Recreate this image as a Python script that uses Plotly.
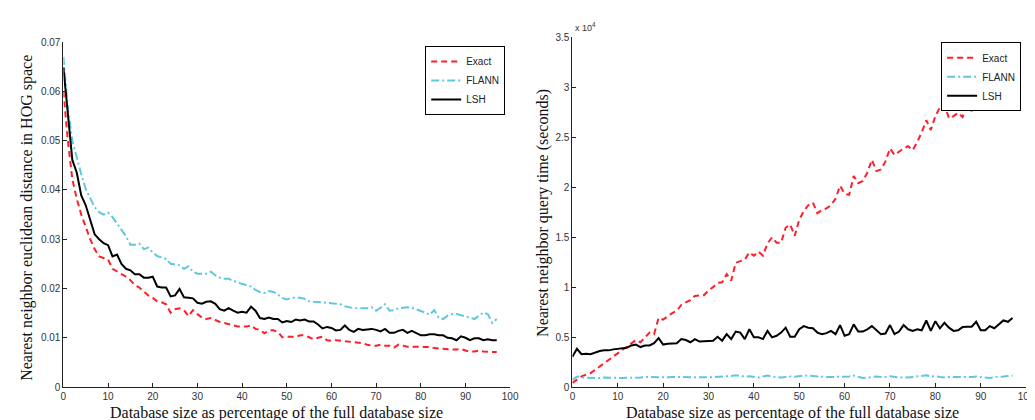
import plotly.graph_objects as go

# Database size (% of full database)
pct = list(range(0, 98))

# Left panel: nearest neighbor euclidean distance in HOG space
dist_exact = [0.060, 0.050, 0.0422, 0.0382, 0.035, 0.0325, 0.030, 0.028, 0.0265, 0.0262,
              0.0259, 0.024, 0.0235, 0.023, 0.0224, 0.0217, 0.0207, 0.0202, 0.0193, 0.0186,
              0.0181, 0.0174, 0.0172, 0.0168, 0.0151, 0.0158, 0.016, 0.0156, 0.0144, 0.0156,
              0.0148, 0.0141, 0.0138, 0.014, 0.0136, 0.0132, 0.013, 0.0128, 0.0125, 0.0123,
              0.0123, 0.0123, 0.0125, 0.0118, 0.0116, 0.0109, 0.0115, 0.0115, 0.0112, 0.0101,
              0.0102, 0.0102, 0.0102, 0.0105, 0.0105, 0.0101, 0.0097, 0.0100, 0.0102, 0.0095,
              0.0094, 0.0095, 0.0094, 0.0092, 0.0091, 0.0090, 0.0090, 0.0089, 0.0086, 0.0084,
              0.0084, 0.0086, 0.0084, 0.0084, 0.0080, 0.0086, 0.0084, 0.0082, 0.0082, 0.0082,
              0.0081, 0.0081, 0.0081, 0.0079, 0.0078, 0.0077, 0.0076, 0.0076, 0.0076, 0.0077,
              0.0074, 0.0072, 0.0072, 0.0074, 0.0072, 0.0072, 0.0071, 0.0071]

dist_flann = [0.067, 0.0566, 0.050, 0.0464, 0.0432, 0.0402, 0.0382, 0.0365, 0.0355, 0.035,
              0.0354, 0.0345, 0.0332, 0.0319, 0.0306, 0.0289, 0.0289, 0.0291, 0.028, 0.0283,
              0.0273, 0.0266, 0.0263, 0.026, 0.025, 0.0248, 0.0247, 0.024, 0.0245, 0.0234,
              0.023, 0.023, 0.023, 0.0234, 0.0227, 0.0222, 0.022, 0.022, 0.0215, 0.0213,
              0.0209, 0.0207, 0.0204, 0.0197, 0.0193, 0.0191, 0.0195, 0.0193, 0.0188, 0.0181,
              0.0178, 0.0181, 0.0181, 0.0181, 0.0179, 0.0174, 0.0173, 0.0173, 0.0172, 0.0171,
              0.017, 0.017, 0.0168, 0.0164, 0.0162, 0.016, 0.016, 0.016, 0.016, 0.0162,
              0.0155, 0.0161, 0.0168, 0.0155, 0.0156, 0.016, 0.0161, 0.0162, 0.0161, 0.0158,
              0.0155, 0.0151, 0.0147, 0.0156, 0.0141, 0.0138, 0.0145, 0.0148, 0.0148, 0.0146,
              0.0143, 0.0141, 0.0138, 0.0145, 0.0151, 0.0148, 0.013, 0.0138]

dist_lsh = [0.0649, 0.0553, 0.0461, 0.0435, 0.0389, 0.0369, 0.034, 0.031, 0.030, 0.0292,
            0.0288, 0.0265, 0.0269, 0.025, 0.024, 0.0237, 0.0229, 0.0229, 0.0222, 0.0222,
            0.0224, 0.0204, 0.0202, 0.0202, 0.0184, 0.0186, 0.0199, 0.0182, 0.0181, 0.018,
            0.0171, 0.0169, 0.0173, 0.0174, 0.0169, 0.0158, 0.0155, 0.016, 0.0155, 0.0151,
            0.0153, 0.0151, 0.0163, 0.0155, 0.014, 0.0138, 0.0141, 0.0138, 0.0138, 0.0131,
            0.0134, 0.0132, 0.0137, 0.0135, 0.0137, 0.0133, 0.0133, 0.0127, 0.0119, 0.0122,
            0.012, 0.0115, 0.0116, 0.0125, 0.0116, 0.0112, 0.0118, 0.0116, 0.0117, 0.0118,
            0.0116, 0.0113, 0.0118, 0.011, 0.011, 0.0114, 0.0116, 0.011, 0.0114, 0.0109,
            0.0105, 0.0105, 0.0107, 0.0107, 0.0105, 0.0105, 0.010, 0.0099, 0.0095, 0.0103,
            0.010, 0.0095, 0.0099, 0.0099, 0.0095, 0.0097, 0.0095, 0.0095]

# Right panel: nearest neighbor query time (units of 10^4 seconds)
time_exact = [0.042, 0.075, 0.107, 0.123, 0.14, 0.172, 0.205, 0.243, 0.276, 0.308,
              0.341, 0.377, 0.406, 0.438, 0.47, 0.448, 0.497, 0.545, 0.529, 0.692,
              0.675, 0.708, 0.74, 0.763, 0.821, 0.847, 0.87, 0.912, 0.919, 0.919,
              0.968, 1.0, 1.042, 1.049, 1.13, 1.065, 1.243, 1.26, 1.276, 1.347,
              1.315, 1.357, 1.315, 1.438, 1.497, 1.445, 1.445, 1.594, 1.626, 1.513,
              1.675, 1.762, 1.82, 1.846, 1.74, 1.772, 1.788, 1.82, 1.885, 2.015,
              1.934, 1.924, 2.112, 2.041, 2.063, 2.145, 2.274, 2.161, 2.177, 2.258,
              2.388, 2.323, 2.355, 2.388, 2.41, 2.371, 2.452, 2.549, 2.67, 2.572,
              2.711, 2.799, 2.825, 2.689, 2.711, 2.743, 2.702, 2.818, 2.76, 2.961,
              2.889, 2.954, 2.986, 3.035, 3.07, 3.12, 3.15, 3.18]

time_flann = [0.07, 0.105, 0.095, 0.092, 0.09, 0.092, 0.09, 0.095, 0.092, 0.09,
              0.088, 0.09, 0.092, 0.093, 0.09, 0.095, 0.1, 0.098, 0.1, 0.098,
              0.095, 0.097, 0.1, 0.1, 0.105, 0.1, 0.098, 0.1, 0.1, 0.098,
              0.097, 0.1, 0.098, 0.1, 0.105, 0.11, 0.118, 0.112, 0.105, 0.108,
              0.098, 0.095, 0.105, 0.115, 0.105, 0.098, 0.095, 0.1, 0.105, 0.102,
              0.11, 0.115, 0.113, 0.11, 0.1, 0.098, 0.1, 0.1, 0.102, 0.1,
              0.105, 0.105, 0.115, 0.1, 0.09, 0.095, 0.1, 0.105, 0.1, 0.1,
              0.108, 0.1, 0.095, 0.1, 0.095, 0.1, 0.105, 0.11, 0.118, 0.105,
              0.11, 0.1, 0.095, 0.1, 0.1, 0.098, 0.097, 0.1, 0.1, 0.105,
              0.1, 0.095, 0.09, 0.1, 0.1, 0.105, 0.11, 0.115]

time_lsh = [0.302, 0.383, 0.328, 0.334, 0.328, 0.344, 0.36, 0.367, 0.367, 0.377,
            0.383, 0.393, 0.393, 0.416, 0.425, 0.40, 0.416, 0.416, 0.438, 0.49,
            0.425, 0.432, 0.438, 0.438, 0.48, 0.47, 0.448, 0.48, 0.455, 0.458,
            0.464, 0.464, 0.503, 0.464, 0.529, 0.48, 0.555, 0.545, 0.48, 0.578,
            0.497, 0.497, 0.48, 0.562, 0.497, 0.513, 0.545, 0.594, 0.503, 0.503,
            0.578, 0.61, 0.594, 0.588, 0.545, 0.529, 0.539, 0.562, 0.529, 0.62,
            0.513, 0.529, 0.627, 0.555, 0.555, 0.578, 0.61, 0.568, 0.529, 0.536,
            0.62, 0.529, 0.555, 0.62, 0.578, 0.562, 0.578, 0.568, 0.666, 0.562,
            0.659, 0.588, 0.643, 0.594, 0.562, 0.568, 0.60, 0.604, 0.604, 0.653,
            0.568, 0.568, 0.61, 0.588, 0.627, 0.666, 0.653, 0.692]

x_ticks = [0, 10, 20, 30, 40, 50, 60, 70, 80, 90, 100]
left_y_ticks = [0, 0.01, 0.02, 0.03, 0.04, 0.05, 0.06, 0.07]
left_y_labels = ["0", "0.01", "0.02", "0.03", "0.04", "0.05", "0.06", "0.07"]
right_y_ticks = [0, 0.5, 1, 1.5, 2, 2.5, 3, 3.5]
right_y_labels = ["0", "0.5", "1", "1.5", "2", "2.5", "3", "3.5"]

RED = "#ff1f2a"
CYAN = "#5fc9dc"
BLACK = "#000000"
DASH = "6px,4px"
DASHDOT = "8px,3px,2px,3px"

fig = go.Figure()

for xa, ya, leg, ys in [("x", "y", "legend", (dist_exact, dist_flann, dist_lsh)),
                        ("x2", "y2", "legend2", (time_exact, time_flann, time_lsh))]:
    fig.add_trace(go.Scatter(x=pct, y=ys[0], mode="lines", name="Exact",
                             line=dict(color=RED, width=2, dash=DASH),
                             xaxis=xa, yaxis=ya, legend=leg))
    fig.add_trace(go.Scatter(x=pct, y=ys[1], mode="lines", name="FLANN",
                             line=dict(color=CYAN, width=2, dash=DASHDOT),
                             xaxis=xa, yaxis=ya, legend=leg))
    fig.add_trace(go.Scatter(x=pct, y=ys[2], mode="lines", name="LSH",
                             line=dict(color=BLACK, width=2),
                             xaxis=xa, yaxis=ya, legend=leg))

W, H = 1035, 420
axis_common = dict(showline=True, linecolor="#222222", linewidth=1, mirror=False,
                   ticks="inside", ticklen=4, tickcolor="#222222", showgrid=False,
                   zeroline=False,
                   tickfont=dict(family="Liberation Sans, Arial, sans-serif", size=10, color="#333333"))

ydom = [(H - 384) / H, (H - 29) / H]
ydom2 = [(H - 384) / H, (H - 24) / H]

legend_common = dict(bgcolor="white", bordercolor="#000000", borderwidth=1,
                     font=dict(family="Liberation Sans, Arial, sans-serif", size=10, color="#222222"),
                     xanchor="right", yanchor="top", tracegroupgap=0, itemwidth=30)

fig.update_layout(
    width=W, height=H,
    margin=dict(l=0, r=0, t=0, b=0),
    paper_bgcolor="white", plot_bgcolor="white",
    showlegend=True,
    xaxis=dict(domain=[53 / W, 505 / W], range=[0, 100], tickvals=x_ticks, anchor="y", **axis_common),
    yaxis=dict(domain=ydom, range=[0, 0.07], tickvals=left_y_ticks, ticktext=left_y_labels,
               anchor="x", **axis_common),
    xaxis2=dict(domain=[568 / W, 1027 / W], range=[0, 100], tickvals=x_ticks, anchor="y2", **axis_common),
    yaxis2=dict(domain=ydom2, range=[0, 3.5], tickvals=right_y_ticks, ticktext=right_y_labels,
                anchor="x2", **axis_common),
    legend=dict(x=500 / W, y=(H - 33) / H, **legend_common),
    legend2=dict(x=1022 / W, y=(H - 29) / H, **legend_common),
)

title_font = dict(family="Liberation Serif, Times New Roman, serif", size=16, color="#111111")
fig.add_annotation(text="Database size as percentage of the full database size",
                   x=269 / W, y=9 / H, xref="paper", yref="paper",
                   xanchor="center", yanchor="middle", showarrow=False, font=title_font)
fig.add_annotation(text="Database size as percentage of the full database size",
                   x=791 / W, y=9 / H, xref="paper", yref="paper",
                   xanchor="center", yanchor="middle", showarrow=False, font=title_font)
fig.add_annotation(text="Nearest neighbor euclidean distance in HOG space",
                   x=16 / W, y=(H - 210) / H, xref="paper", yref="paper", textangle=-90,
                   xanchor="center", yanchor="middle", showarrow=False, font=title_font)
fig.add_annotation(text="Nearest neighbor query time (seconds)",
                   x=538 / W, y=(H - 205) / H, xref="paper", yref="paper", textangle=-90,
                   xanchor="center", yanchor="middle", showarrow=False, font=title_font)
fig.add_annotation(text="x 10<sup>4</sup>",
                   x=569 / W, y=(H - 22) / H, xref="paper", yref="paper",
                   xanchor="left", yanchor="bottom", showarrow=False,
                   font=dict(family="Liberation Sans, Arial, sans-serif", size=9, color="#333333"))

fig.write_html("out.html")
